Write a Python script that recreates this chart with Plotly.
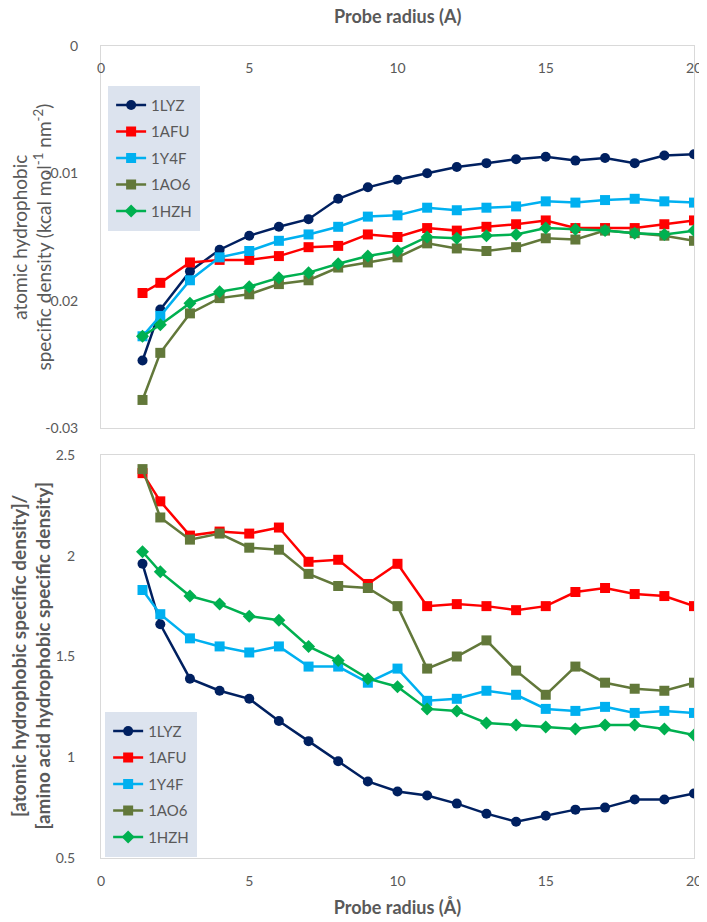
import plotly.graph_objects as go
from plotly.subplots import make_subplots

probe_radius = [1.4, 2, 3, 4, 5, 6, 7, 8, 9, 10, 11, 12, 13, 14, 15, 16, 17, 18, 19, 20]

# atomic hydrophobic specific density (kcal mol-1 nm-2)
atomic_1lyz = [-0.0247, -0.0207, -0.0177, -0.0160, -0.0149, -0.0142, -0.0136, -0.0120, -0.0111, -0.0105,
               -0.0100, -0.0095, -0.0092, -0.0089, -0.0087, -0.0090, -0.0088, -0.0092, -0.0086, -0.0085]
atomic_1afu = [-0.0194, -0.0186, -0.0170, -0.0168, -0.0168, -0.0165, -0.0158, -0.0157, -0.0148, -0.0150,
               -0.0143, -0.0145, -0.0142, -0.0140, -0.0137, -0.0143, -0.0143, -0.0143, -0.0140, -0.0137]
atomic_1y4f = [-0.0228, -0.0212, -0.0184, -0.0166, -0.0161, -0.0153, -0.0148, -0.0142, -0.0134, -0.0133,
               -0.0127, -0.0129, -0.0127, -0.0126, -0.0122, -0.0123, -0.0121, -0.0120, -0.0122, -0.0123]
atomic_1ao6 = [-0.0278, -0.0241, -0.0210, -0.0198, -0.0195, -0.0187, -0.0184, -0.0174, -0.0170, -0.0166,
               -0.0155, -0.0159, -0.0161, -0.0158, -0.0151, -0.0152, -0.0145, -0.0147, -0.0149, -0.0153]
atomic_1hzh = [-0.0228, -0.0219, -0.0202, -0.0193, -0.0189, -0.0182, -0.0178, -0.0171, -0.0165, -0.0161,
               -0.0150, -0.0151, -0.0149, -0.0148, -0.0143, -0.0144, -0.0145, -0.0147, -0.0148, -0.0145]

# [atomic hydrophobic specific density]/[amino acid hydrophobic specific density]
ratio_1lyz = [1.96, 1.66, 1.39, 1.33, 1.29, 1.18, 1.08, 0.98, 0.88, 0.83,
              0.81, 0.77, 0.72, 0.68, 0.71, 0.74, 0.75, 0.79, 0.79, 0.82]
ratio_1afu = [2.41, 2.27, 2.10, 2.12, 2.11, 2.14, 1.97, 1.98, 1.86, 1.96,
              1.75, 1.76, 1.75, 1.73, 1.75, 1.82, 1.84, 1.81, 1.80, 1.75]
ratio_1y4f = [1.83, 1.71, 1.59, 1.55, 1.52, 1.55, 1.45, 1.45, 1.37, 1.44,
              1.28, 1.29, 1.33, 1.31, 1.24, 1.23, 1.25, 1.22, 1.23, 1.22]
ratio_1ao6 = [2.43, 2.19, 2.08, 2.11, 2.04, 2.03, 1.91, 1.85, 1.84, 1.75,
              1.44, 1.50, 1.58, 1.43, 1.31, 1.45, 1.37, 1.34, 1.33, 1.37]
ratio_1hzh = [2.02, 1.92, 1.80, 1.76, 1.70, 1.68, 1.55, 1.48, 1.39, 1.35,
              1.24, 1.23, 1.17, 1.16, 1.15, 1.14, 1.16, 1.16, 1.14, 1.11]

top_ticks = [0, -0.01, -0.02, -0.03]
top_tick_text = ['0', '-0.01', '-0.02', '-0.03']

top_y_title = 'atomic hydrophobic<br>specific density (kcal mol<sup>-1</sup> nm<sup>-2</sup>)'
bottom_y_title = '<b>[atomic hydrophobic specific density]/<br>[amino acid hydrophobic specific density]</b>'
x_title = '<b>Probe radius (Å)</b>'

series = [
	('1LYZ', atomic_1lyz, ratio_1lyz, '#002060', 'circle'),
	('1AFU', atomic_1afu, ratio_1afu, '#FF0000', 'square'),
	('1Y4F', atomic_1y4f, ratio_1y4f, '#00B0F0', 'square'),
	('1AO6', atomic_1ao6, ratio_1ao6, '#62783A', 'square'),
	('1HZH', atomic_1hzh, ratio_1hzh, '#00B050', 'diamond'),
]

font_name = 'Lato'
gray = '#595959'

# the page body keeps its default 8px margin, so the figure is 8px smaller
fig = make_subplots(rows=2, cols=1, vertical_spacing=0.0333)

for name, top_vals, bottom_vals, color, symbol in series:

	fig.add_trace(go.Scatter(x=probe_radius, y=top_vals,
		mode='lines+markers', name=name,
		legend='legend', legendgroup='top_' + name,
		line=dict(color=color, width=2.5),
		marker=dict(color=color, symbol=symbol, size=10)), row=1, col=1)

	fig.add_trace(go.Scatter(x=probe_radius, y=bottom_vals,
		mode='lines+markers', name=name,
		legend='legend2', legendgroup='bottom_' + name,
		line=dict(color=color, width=2.5),
		marker=dict(color=color, symbol=symbol, size=10)), row=2, col=1)

# empty trace so the overlay axis carrying the top tick labels gets drawn
fig.add_trace(go.Scatter(x=[None], y=[None], xaxis='x3', yaxis='y',
	showlegend=False, hoverinfo='skip'))

fig.update_layout(
	width=699,
	height=914,
	margin=dict(l=93, r=13, t=38, b=64),
	paper_bgcolor='white',
	plot_bgcolor='white',
	font=dict(family=font_name, size=14, color=gray),
	legend=dict(
		x=0.012, y=0.951, xanchor='left', yanchor='top',
		bgcolor='#DCE3EE', bordercolor='#DCE3EE', borderwidth=3,
		font=dict(size=15, color=gray),
		tracegroupgap=4
	),
	legend2=dict(
		x=0.007, y=0.18, xanchor='left', yanchor='top',
		bgcolor='#DCE3EE', bordercolor='#DCE3EE', borderwidth=3,
		font=dict(size=15, color=gray),
		tracegroupgap=4
	)
)

fig.update_layout(
	yaxis_domain=[0.5296, 1.0],
	yaxis2_domain=[0.0, 0.4963]
)

# titles as annotations so they sit where the reference has them
fig.add_annotation(text=top_y_title, textangle=-90,
	xref='paper', yref='paper', x=-0.117, y=0.7648,
	xanchor='center', yanchor='middle', showarrow=False,
	font=dict(size=19, color=gray))

fig.add_annotation(text=bottom_y_title, textangle=-90,
	xref='paper', yref='paper', x=-0.118, y=0.2482,
	xanchor='center', yanchor='middle', showarrow=False,
	font=dict(size=19, color=gray))

fig.add_annotation(text=x_title,
	xref='paper', yref='paper', x=0.5, y=1.0, yshift=30,
	xanchor='center', yanchor='middle', showarrow=False,
	font=dict(size=18, color=gray))

fig.update_xaxes(
	range=[0, 20],
	dtick=5,
	showgrid=False,
	zeroline=False,
	showline=True,
	mirror=True,
	linecolor='#D9D9D9',
	linewidth=1,
	ticklabeloverflow='allow',
	automargin=False
)

fig.update_yaxes(
	showgrid=False,
	zeroline=False,
	showline=True,
	mirror=True,
	linecolor='#D9D9D9',
	linewidth=1,
	ticklabeloverflow='allow',
	automargin=False
)

fig.update_xaxes(
	side='top',
	showticklabels=False,
	row=1, col=1
)

fig.update_xaxes(
	ticklabelstandoff=10,
	title_text=x_title,
	title_font=dict(size=18, color=gray),
	title_standoff=13,
	row=2, col=1
)

fig.update_yaxes(
	range=[-0.03, 0],
	tickvals=top_ticks,
	ticktext=top_tick_text,
	ticklabelstandoff=19,
	row=1, col=1
)

fig.update_yaxes(
	range=[0.5, 2.5],
	dtick=0.5,
	ticklabelstandoff=22,
	row=2, col=1
)

# tick labels of the top panel: an overlay axis placed just under its top edge
fig.update_layout(
	xaxis3=dict(
		overlaying='x',
		anchor='free',
		position=0.9858,
		side='bottom',
		range=[0, 20],
		dtick=5,
		showgrid=False,
		zeroline=False,
		showline=False,
		ticks='',
		automargin=False,
		ticklabeloverflow='allow',
		tickfont=dict(size=14, color=gray)
	)
)

fig.write_html("out.html")
